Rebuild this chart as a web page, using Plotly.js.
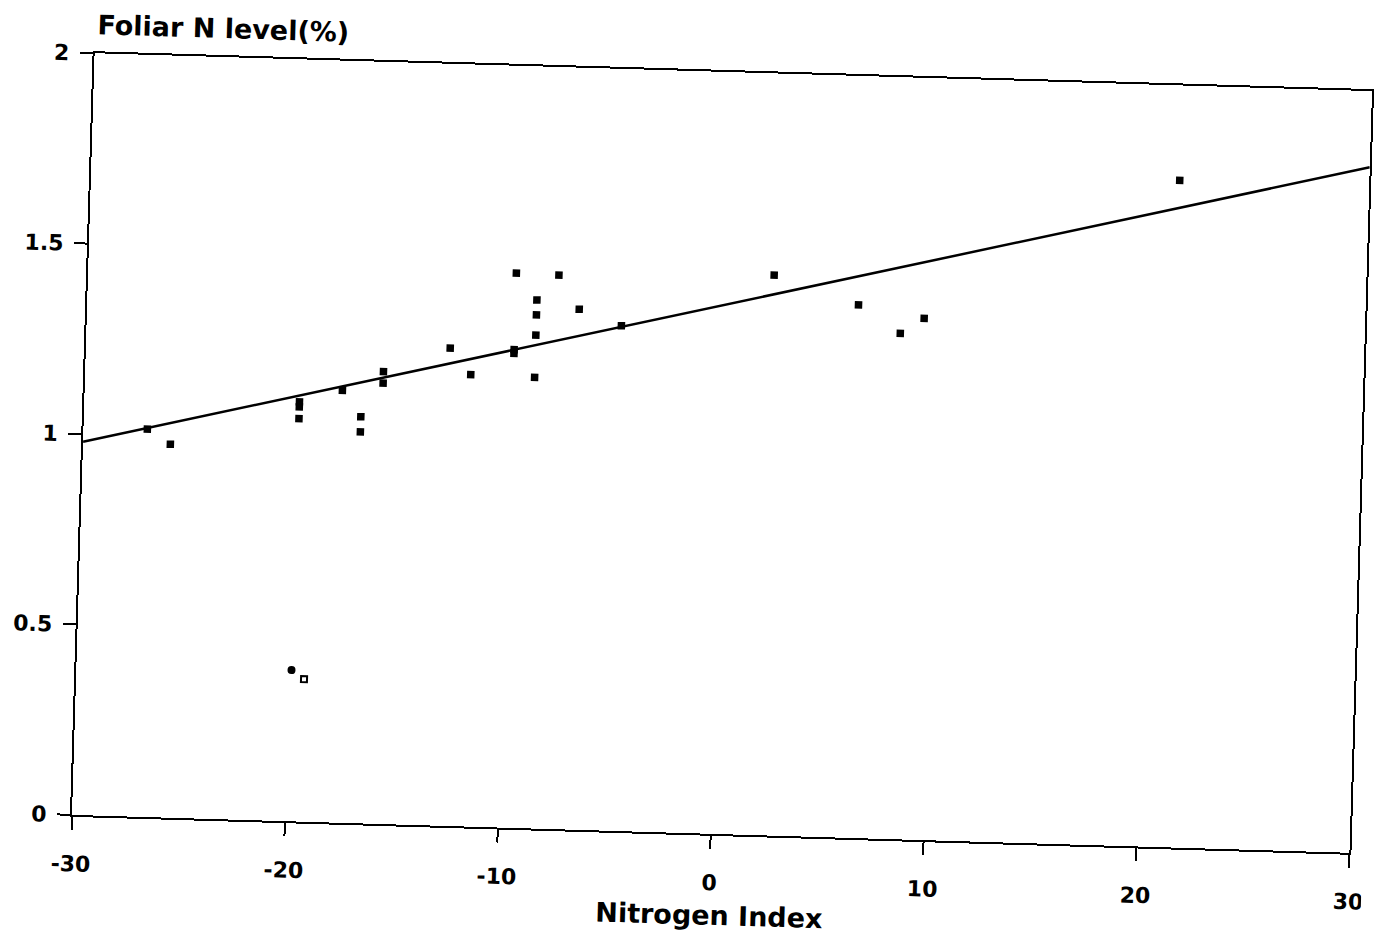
<!DOCTYPE html>
<html>
<head>
<meta charset="utf-8">
<script src="https://cdn.plot.ly/plotly-3.0.1.min.js"></script>
<style>
  html, body { margin: 0; padding: 0; background: #ffffff; overflow: hidden; }
  #chart { width: 1374px; height: 935px; transform: rotate(1.7deg); transform-origin: 722px 453px; }
</style>
</head>
<body>
<div id="chart"></div>
<script>
// Observed points: Nitrogen Index vs Foliar N level (%)
const nitrogenIndex = [-27.0, -25.9, -19.9, -19.9, -19.9, -17.9, -17.0, -17.0, -16.0, -16.0,
  -12.9, -11.9, -9.9, -9.9, -9.9, -8.9, -8.9, -8.9, -8.9, -7.9, -6.9, -4.9, 2.2, 6.2, 8.2, 9.3, 21.1];
const foliarN = [1.018, 0.980, 1.101, 1.088, 1.057, 1.135, 1.067, 1.027, 1.187, 1.157,
  1.254, 1.186, 1.456, 1.255, 1.245, 1.387, 1.348, 1.295, 1.184, 1.454, 1.366, 1.326, 1.471, 1.399, 1.328, 1.369, 1.751];

// Low outlying marks
const outlierIndex = [-19.9, -19.3];
const outlierN = [0.397, 0.374];

// Fitted regression line
const fitX = [-30, 30];
const fitY = [0.98, 1.80];

// Axis ticks
const xTicks = [-30, -20, -10, 0, 10, 20, 30];
const xTickText = ['-30', '-20', '-10', '0', '10', '20', '30'];
const yTicks = [0, 0.5, 1, 1.5, 2];
const yTickText = ['0', '0.5', '1', '1.5', '2'];

const FONT = 'DejaVu Sans, Liberation Sans, Arial, sans-serif';

const traces = [
  {
    x: fitX, y: fitY, type: 'scatter', mode: 'lines',
    line: { color: '#000000', width: 2.5 }, hoverinfo: 'skip', showlegend: false
  },
  {
    x: nitrogenIndex, y: foliarN, type: 'scatter', mode: 'markers',
    marker: { symbol: 'square', size: 7.5, color: '#000000' }, showlegend: false
  },
  {
    x: outlierIndex, y: outlierN, type: 'scatter', mode: 'markers',
    marker: { symbol: ['circle', 'square-open'], size: 6, color: '#000000', line: { width: 2, color: '#000000' } },
    showlegend: false
  }
];

const layout = {
  width: 1374, height: 935,
  paper_bgcolor: '#ffffff', plot_bgcolor: '#ffffff',
  margin: { l: 83, r: 13, t: 72, b: 101 },
  showlegend: false,
  xaxis: {
    range: [-30, 30], tickvals: xTicks, ticktext: xTickText,
    showgrid: false, zeroline: false,
    showline: true, linecolor: '#000000', linewidth: 2, mirror: true,
    ticks: 'outside', ticklen: 13, tickwidth: 2, tickcolor: '#000000',
    ticklabelstandoff: 15, ticklabeloverflow: 'allow',
    tickfont: { family: FONT, size: 22, color: '#000000', weight: 'bold' }
  },
  yaxis: {
    range: [0, 2], tickvals: yTicks, ticktext: yTickText,
    showgrid: false, zeroline: false,
    showline: true, linecolor: '#000000', linewidth: 2, mirror: true,
    ticks: 'outside', ticklen: 13, tickwidth: 2, tickcolor: '#000000',
    ticklabelstandoff: 6,
    tickfont: { family: FONT, size: 22, color: '#000000', weight: 'bold' }
  },
  annotations: [
    {
      text: 'Foliar N level(%)', xref: 'paper', yref: 'paper', x: 0, y: 1,
      xanchor: 'left', yanchor: 'bottom', yshift: 11, showarrow: false,
      font: { family: FONT, size: 27, color: '#000000', weight: 'bold' }
    },
    {
      text: 'Nitrogen Index', xref: 'paper', yref: 'paper', x: 0.5, y: 0,
      xanchor: 'center', yanchor: 'top', yshift: -64, showarrow: false,
      font: { family: FONT, size: 27, color: '#000000', weight: 'bold' }
    }
  ]
};

Plotly.newPlot('chart', traces, layout, { displayModeBar: false, staticPlot: true });
</script>
</body>
</html>
